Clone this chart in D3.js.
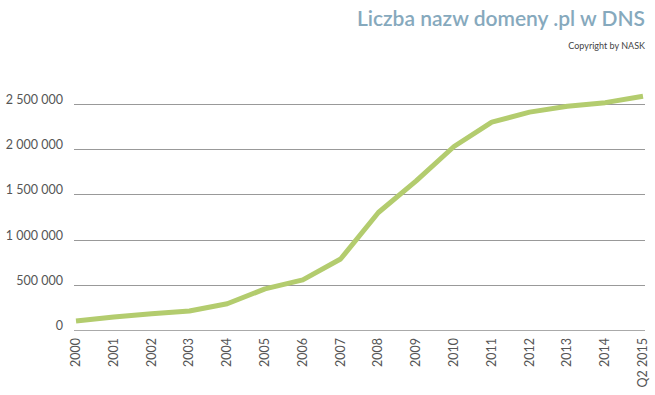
<!DOCTYPE html>
<meta charset="utf-8">
<style>
body { margin: 0; background: #fff; font-family: Lato, "Open Sans", sans-serif; }
svg { display: block; }
.grid line { stroke: #999; stroke-width: 1px; }
.tick text { fill: #555; }
</style>
<body>
<script src="https://d3js.org/d3.v7.min.js"></script>
<script>

const years = ["2000", "2001", "2002", "2003", "2004", "2005", "2006", "2007",
  "2008", "2009", "2010", "2011", "2012", "2013", "2014", "Q2 2015"];
const domains = [100000, 145000, 180000, 210000, 290000, 455000, 555000, 785000,
  1300000, 1650000, 2030000, 2300000, 2410000, 2475000, 2515000, 2585000];
const yTicks = [0, 500000, 1000000, 1500000, 2000000, 2500000];

const width = 655, height = 395;
const margin = {top: 0, left: 74, right: 10};

const svg = d3.select("body").append("svg")
  .attr("width", width)
  .attr("height", height);

let x = d3.scalePoint()
  .domain(years)
  .range([76, 643]);

let y = d3.scaleLinear()
  .domain([0, 2500000])
  .range([330, 104]);

let fmt = function(d) { return d3.format(",")(d).replace(/,/g, " "); };

// gridlines + y labels
let grid = svg.append("g").attr("class", "grid");
grid.selectAll("line")
  .data(yTicks)
  .enter().append("line")
  .attr("x1", margin.left)
  .attr("x2", width - margin.right)
  .attr("y1", d => Math.round(y(d)) + 0.5)
  .attr("y2", d => Math.round(y(d)) + 0.5)
  .style("stroke", d => d === 0 ? "#aaa" : "#999");

svg.append("g").attr("class", "tick")
  .selectAll("text")
  .data(yTicks)
  .enter().append("text")
  .attr("x", 63)
  .attr("y", d => y(d) + 0)
  .attr("text-anchor", "end")
  .style("font-size", "12.5px")
  .text(fmt);

// x labels
svg.append("g").attr("class", "tick")
  .selectAll("text")
  .data(years)
  .enter().append("text")
  .attr("transform", d => "translate(" + (x(d) + 4) + ",338) rotate(-90)")
  .attr("text-anchor", "end")
  .style("font-size", "12.5px")
  .text(d => d);

// line
let line = d3.line()
  .x((d, i) => x(years[i]))
  .y(d => y(d));

svg.append("path")
  .datum(domains)
  .attr("d", line)
  .attr("fill", "none")
  .attr("stroke", "#b3cc6e")
  .attr("stroke-width", 5)
  .attr("stroke-linejoin", "round");

// title
svg.append("text")
  .attr("x", 645)
  .attr("y", 26)
  .attr("text-anchor", "end")
  .style("font-size", "21px")
  .style("font-weight", "600")
  .style("fill", "#86a9bd")
  .text("Liczba nazw domeny .pl w DNS");

svg.append("text")
  .attr("x", 645)
  .attr("y", 49)
  .attr("text-anchor", "end")
  .style("font-size", "9px")
  .style("fill", "#444")
  .text("Copyright by NASK");

</script>
</body>
